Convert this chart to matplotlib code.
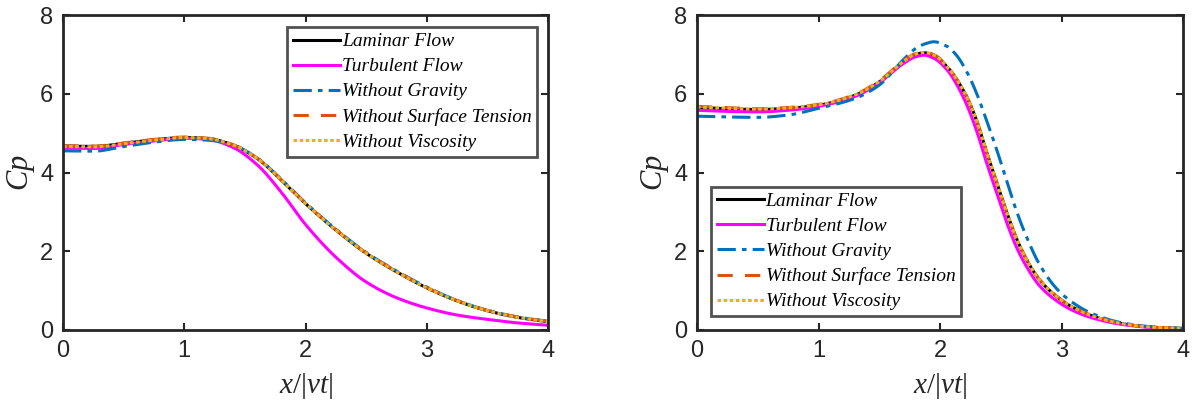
import numpy as np
import matplotlib.pyplot as plt

# data (x/|vt| vs Cp)
xL = [0.0, 0.25, 0.5, 0.75, 1.0, 1.2, 1.4, 1.6, 1.8, 2.0, 2.25, 2.5, 2.75, 3.0, 3.25, 3.5, 3.75, 4.0]
lamL = [4.67, 4.66, 4.74, 4.83, 4.89, 4.86, 4.70, 4.36, 3.81, 3.21, 2.54, 1.95, 1.48, 1.07, 0.74, 0.49, 0.32, 0.21]
turL = [4.62, 4.61, 4.71, 4.80, 4.87, 4.84, 4.64, 4.20, 3.50, 2.68, 1.85, 1.22, 0.82, 0.56, 0.38, 0.27, 0.18, 0.12]
gravL = [4.55, 4.54, 4.66, 4.77, 4.84, 4.82, 4.70, 4.37, 3.83, 3.23, 2.56, 1.97, 1.50, 1.09, 0.75, 0.50, 0.33, 0.22]
stL = [4.68, 4.67, 4.75, 4.84, 4.90, 4.87, 4.71, 4.37, 3.82, 3.22, 2.55, 1.96, 1.49, 1.08, 0.75, 0.50, 0.33, 0.22]
viscL = [4.66, 4.65, 4.73, 4.82, 4.89, 4.86, 4.70, 4.36, 3.81, 3.21, 2.54, 1.95, 1.48, 1.07, 0.74, 0.49, 0.32, 0.21]

xR = [0.0, 0.25, 0.5, 0.75, 1.0, 1.3, 1.5, 1.7, 1.8, 1.87, 1.95, 2.06, 2.14, 2.22, 2.30, 2.38,
      2.47, 2.55, 2.63, 2.71, 2.82, 2.96, 3.09, 3.25, 3.5, 3.75, 4.0]
lamR = [5.65, 5.62, 5.60, 5.63, 5.71, 5.96, 6.30, 6.81, 7.00, 7.04, 6.98, 6.68, 6.35, 5.92, 5.33, 4.55,
        3.72, 2.98, 2.32, 1.80, 1.27, 0.85, 0.58, 0.36, 0.16, 0.07, 0.04]
turR = [5.58, 5.55, 5.54, 5.58, 5.68, 5.93, 6.28, 6.77, 6.94, 6.98, 6.90, 6.60, 6.22, 5.72, 5.07, 4.28,
        3.45, 2.72, 2.10, 1.62, 1.12, 0.74, 0.50, 0.31, 0.14, 0.06, 0.03]
gravR = [5.43, 5.41, 5.40, 5.46, 5.63, 5.88, 6.22, 6.87, 7.15, 7.26, 7.32, 7.20, 6.96, 6.56, 6.02, 5.35,
         4.55, 3.77, 3.02, 2.38, 1.66, 1.05, 0.70, 0.42, 0.18, 0.08, 0.04]
stR = [5.68, 5.65, 5.62, 5.65, 5.73, 5.98, 6.33, 6.84, 7.02, 7.06, 6.99, 6.69, 6.36, 5.93, 5.34, 4.56,
       3.73, 2.99, 2.33, 1.81, 1.28, 0.86, 0.59, 0.37, 0.16, 0.07, 0.04]
viscR = [5.66, 5.63, 5.61, 5.64, 5.72, 5.97, 6.31, 6.82, 7.01, 7.05, 6.98, 6.68, 6.35, 5.92, 5.33, 4.55,
         3.72, 2.98, 2.32, 1.80, 1.27, 0.85, 0.58, 0.36, 0.16, 0.07, 0.04]

labels = ["Laminar Flow", "Turbulent Flow", "Without Gravity",
          "Without Surface Tension", "Without Viscosity"]
colors = ["black", "#FF00FF", "#0072BD", "#D95319", "#EDB120"]
styles = ["-", "-", (0, (6, 2, 1.5, 2)), (0, (5, 4)), (0, (1.2, 0.8))]

plt.rcParams['font.family'] = ['Liberation Sans', 'DejaVu Sans']
plt.rcParams['mathtext.fontset'] = 'custom'
plt.rcParams['mathtext.it'] = 'Liberation Serif:italic'
plt.rcParams['mathtext.rm'] = 'Liberation Serif'


def smooth(x, y):
    # monotone cubic (PCHIP-like) interpolation so the line is drawn smooth
    x = np.asarray(x, float)
    y = np.asarray(y, float)
    xs = np.linspace(x[0], x[-1], 500)
    h = np.diff(x)
    d = np.diff(y) / h
    m = np.zeros_like(y)
    for k in range(1, len(x) - 1):
        if d[k - 1] * d[k] > 0:
            w1 = 2 * h[k] + h[k - 1]
            w2 = h[k] + 2 * h[k - 1]
            m[k] = (w1 + w2) / (w1 / d[k - 1] + w2 / d[k])
    m[0] = d[0]
    m[-1] = d[-1]
    idx = np.clip(np.searchsorted(x, xs) - 1, 0, len(x) - 2)
    t = (xs - x[idx]) / h[idx]
    h00 = 2 * t**3 - 3 * t**2 + 1
    h10 = t**3 - 2 * t**2 + t
    h01 = -2 * t**3 + 3 * t**2
    h11 = t**3 - t**2
    ys = h00 * y[idx] + h10 * h[idx] * m[idx] + h01 * y[idx + 1] + h11 * h[idx] * m[idx + 1]
    return xs, ys


def draw(ax, x, series, legend_kw):
    for y, lab, c, ls in zip(series, labels, colors, styles):
        xs, ys = smooth(x, y)
        ax.plot(xs, ys, color=c, linestyle=ls, linewidth=2.2, label=lab)
    ax.set_xlim(0, 4)
    ax.set_ylim(0, 8)
    ax.set_xticks([0, 1, 2, 3, 4])
    ax.set_yticks([0, 2, 4, 6, 8])
    ax.tick_params(direction='in', length=5, width=1.5, labelsize=17,
                   top=True, right=True, colors='#262626', pad=7)
    for s in ax.spines.values():
        s.set_linewidth(2)
        s.set_color('#262626')
    ax.set_xlabel(r"$x/|vt|$", fontsize=21, color='#262626', labelpad=7)
    ax.set_ylabel(r"$Cp$", fontsize=22, color='#262626', labelpad=2)
    leg = ax.legend(prop={'family': 'Liberation Serif', 'style': 'italic', 'size': 14},
                    handlelength=2.4, handletextpad=0.1, labelspacing=0.38,
                    borderpad=0.3, borderaxespad=0, fancybox=False, **legend_kw)
    leg.get_frame().set_edgecolor('#262626')
    leg.get_frame().set_linewidth(2)


fig = plt.figure(figsize=(11.95, 4.07), dpi=100)
ax1 = fig.add_axes([63 / 1195, 1 - 330 / 407, 485 / 1195, 315 / 407])
ax2 = fig.add_axes([697 / 1195, 1 - 330 / 407, 486 / 1195, 315 / 407])

draw(ax1, xL, [lamL, turL, gravL, stL, viscL],
     dict(loc='upper right', bbox_to_anchor=(0.978, 0.962)))
draw(ax2, xR, [lamR, turR, gravR, stR, viscR],
     dict(loc='lower left', bbox_to_anchor=(0.029, 0.044)))

fig.savefig("out.png", dpi=100)
